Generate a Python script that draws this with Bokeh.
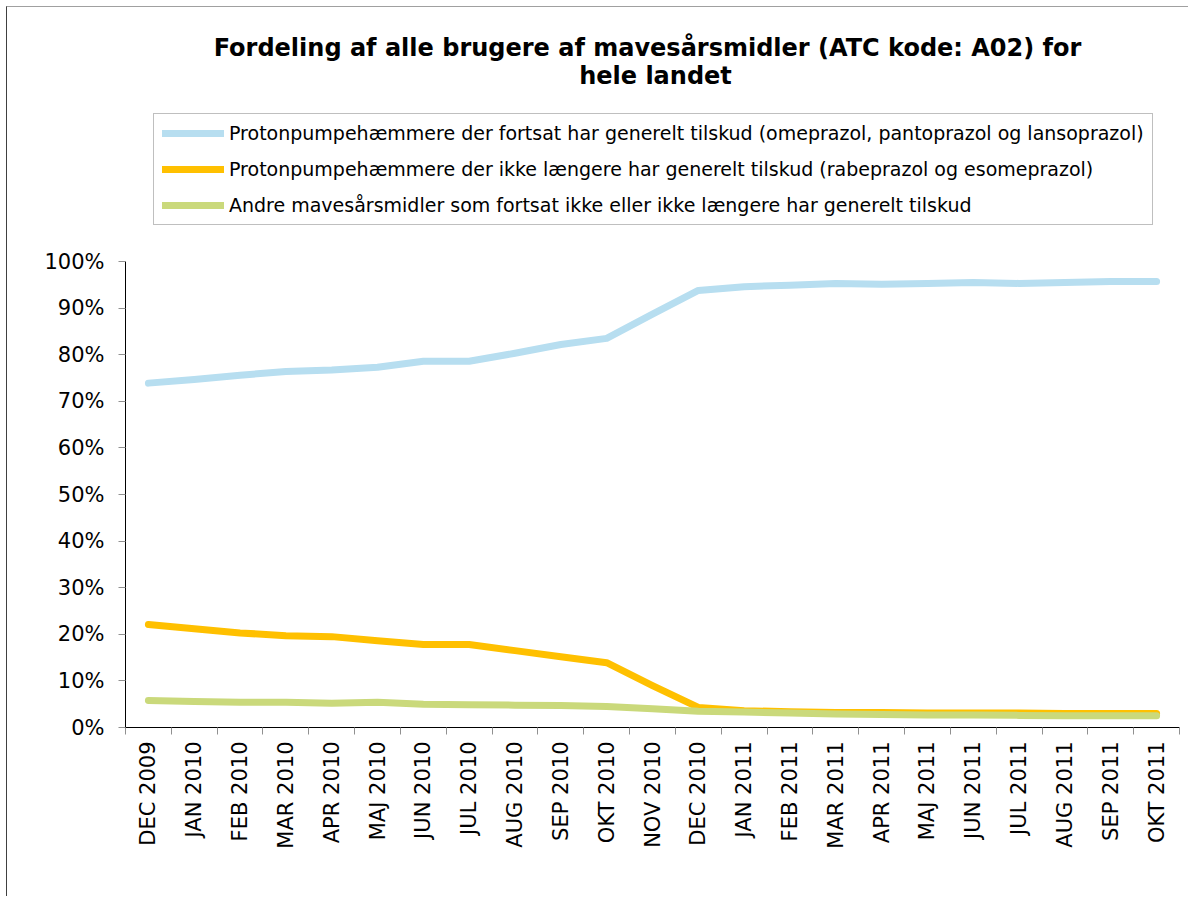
import math
from bokeh.plotting import figure
from bokeh.models import (Range1d, FixedTicker, PrintfTickFormatter, Legend, LegendItem, Label)
from bokeh.embed import file_html
from bokeh.resources import INLINE

categories = ["DEC 2009", "JAN 2010", "FEB 2010", "MAR 2010", "APR 2010", "MAJ 2010",
              "JUN 2010", "JUL 2010", "AUG 2010", "SEP 2010", "OKT 2010", "NOV 2010",
              "DEC 2010", "JAN 2011", "FEB 2011", "MAR 2011", "APR 2011", "MAJ 2011",
              "JUN 2011", "JUL 2011", "AUG 2011", "SEP 2011", "OKT 2011"]

ppi_fortsat = [73.9, 74.7, 75.6, 76.4, 76.7, 77.3, 78.6, 78.6, 80.3, 82.2, 83.5, 88.7,
               93.8, 94.6, 94.9, 95.3, 95.1, 95.3, 95.5, 95.3, 95.5, 95.7, 95.7]
ppi_ikke = [22.1, 21.2, 20.3, 19.7, 19.5, 18.6, 17.8, 17.8, 16.5, 15.2, 13.9, 9.0,
            4.3, 3.6, 3.4, 3.2, 3.2, 3.1, 3.1, 3.1, 3.0, 3.0, 3.0]
andre = [5.8, 5.6, 5.4, 5.4, 5.2, 5.4, 5.0, 4.9, 4.8, 4.7, 4.5, 4.0,
         3.5, 3.3, 3.1, 2.9, 2.8, 2.7, 2.7, 2.6, 2.5, 2.5, 2.5]

series_names = [
    "Protonpumpehæmmere der fortsat har generelt tilskud (omeprazol, pantoprazol og lansoprazol)",
    "Protonpumpehæmmere der ikke længere har generelt tilskud (rabeprazol og esomeprazol)",
    "Andre mavesårsmidler som fortsat ikke eller ikke længere har generelt tilskud",
]
colors = ["#B7DEF0", "#FFC000", "#CAD97B"]
y_ticks = list(range(0, 101, 10))
title_lines = ["Fordeling af alle brugere af mavesårsmidler (ATC kode: A02) for", "hele landet"]

# geometry (pixels)
W, H = 1182, 890
frame_h = 720            # frame spans from figure top down to the x axis
axis_span = 466          # pixels from 0% to 100%
y_top = 100.0 * frame_h / axis_span

p = figure(width=W, height=H, output_backend="svg", toolbar_location=None,
           x_range=Range1d(0, len(categories)), y_range=Range1d(0, y_top),
           min_border_left=118, min_border_right=10, min_border_top=0,
           min_border_bottom=H - frame_h)
p.margin = (6, 0, 0, 6)
p.title.visible = False
p.outline_line_color = None
p.grid.visible = False
p.background_fill_color = "white"
p.border_fill_color = "white"
p.styles = {"border-left": "1px solid #404040", "border-top": "1px solid #a0a0a0"}

xs = [i + 0.5 for i in range(len(categories))]

renderers = []
for vals, c in zip([ppi_fortsat, ppi_ikke, andre], colors):
    r = p.line(xs, vals, line_color=c, line_width=7, line_cap="round", line_join="round")
    renderers.append(r)

# X axis
xa = p.xaxis[0]
xa.ticker = FixedTicker(ticks=xs, minor_ticks=list(range(len(categories) + 1)))
xa.major_label_overrides = {x: c for x, c in zip(xs, categories)}
xa.major_label_orientation = math.pi / 2
xa.major_tick_line_color = None
xa.major_tick_out = 7
xa.major_tick_in = 0
xa.minor_tick_line_color = "#909090"
xa.minor_tick_out = 7
xa.minor_tick_in = 0
xa.axis_line_color = "black"
xa.major_label_text_font = "DejaVu Sans"
xa.major_label_text_font_size = "21px"
xa.major_label_text_color = "black"
xa.major_label_standoff = 7

# Y axis
ya = p.yaxis[0]
ya.bounds = (0, 100)
ya.ticker = FixedTicker(ticks=y_ticks)
ya.formatter = PrintfTickFormatter(format="%d%%")
ya.major_tick_line_color = "#909090"
ya.major_tick_out = 7
ya.major_tick_in = 0
ya.minor_tick_line_color = None
ya.axis_line_color = "black"
ya.major_label_text_font = "DejaVu Sans"
ya.major_label_text_font_size = "21px"
ya.major_label_text_color = "black"
ya.major_label_standoff = 14

# Legend
legend = Legend(items=[LegendItem(label=n, renderers=[r]) for n, r in zip(series_names, renderers)],
                location=(28, 502), orientation="vertical")
legend.glyph_width = 62
legend.glyph_height = 20
legend.label_height = 20
legend.spacing = 14
legend.padding = 8
legend.margin = 0
legend.label_standoff = 5
legend.label_text_font = "DejaVu Sans"
legend.label_text_font_size = "19px"
legend.label_text_color = "black"
legend.border_line_color = "#808080"
legend.border_line_width = 1
legend.background_fill_color = "white"
legend.background_fill_alpha = 1
p.add_layout(legend, "center")

# Title
for txt, tx, ty in zip(title_lines, [522, 530], [680, 652]):
    p.add_layout(Label(x=tx, y=ty, x_units="screen", y_units="screen", text=txt,
                       text_align="center", text_baseline="middle",
                       text_font="DejaVu Sans", text_font_style="bold",
                       text_font_size="24px", text_color="black"))

open("out.html", "w").write(file_html(p, INLINE))
